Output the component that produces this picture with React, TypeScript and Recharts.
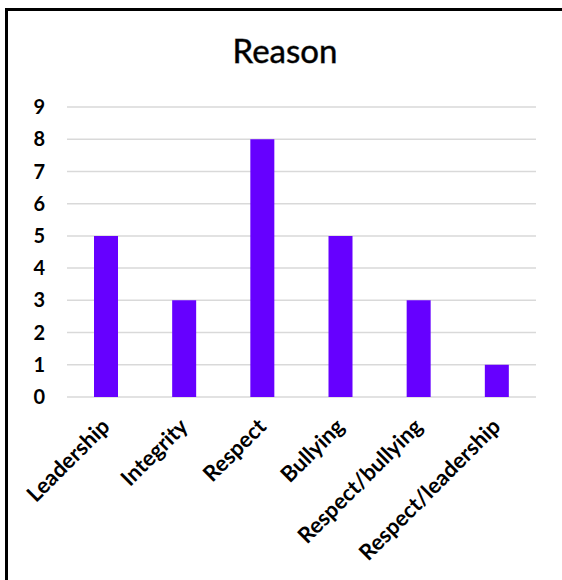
import React from 'react';
import { BarChart, Bar, XAxis, YAxis, CartesianGrid } from 'recharts';

const reasons = ['Leadership', 'Integrity', 'Respect', 'Bullying', 'Respect/bullying', 'Respect/leadership'];
const counts = [5, 3, 8, 5, 3, 1];
const yTicks = [0, 1, 2, 3, 4, 5, 6, 7, 8, 9];

const BAR_COLOR = '#6600ff';
const FONT = 'Lato, "Open Sans", sans-serif';

const data = reasons.map((name, i) => ({ name, value: counts[i] }));

// rotated category label, anchored at its end like Excel does
const XTick = ({ x, y, payload }: any) => (
  <g transform={`translate(${x + 5},${y + 31})`}>
    <text
      x={0}
      y={0}
      textAnchor="end"
      transform="rotate(-45)"
      fontFamily={FONT}
      fontWeight={700}
      fontSize={22}
      fill="#000"
    >
      {payload.value}
    </text>
  </g>
);

export default function App() {
  return (
    <div style={{ position: 'absolute', left: 0, top: 0, width: 562, height: 580, overflow: 'hidden', background: '#fff' }}>
      {/* frame (only left and top edges show) + title */}
      <svg width={562} height={580} style={{ position: 'absolute', left: 0, top: 0 }}>
        <path d="M6.5,580 V9.5 H562" fill="none" stroke="#000" strokeWidth={3} />
        <text
          x={285}
          y={63}
          textAnchor="middle"
          fontFamily={FONT}
          fontSize={33}
          fill="#000"
          stroke="#777"
          strokeWidth={0.8}
          paintOrder="stroke"
        >
          Reason
        </text>
      </svg>
      <div style={{ position: 'absolute', left: 0, top: 0 }}>
        <BarChart
          width={562}
          height={580}
          data={data}
          margin={{ top: 107, right: 26, bottom: 0, left: 0 }}
          barSize={24}
        >
          <CartesianGrid vertical={false} stroke="#d9d9d9" strokeWidth={1.5} />
          <XAxis
            dataKey="name"
            axisLine={false}
            tickLine={false}
            tickSize={0}
            tickMargin={0}
            interval={0}
            height={183}
            tick={<XTick />}
          />
          <YAxis
            width={67}
            domain={[0, 9]}
            ticks={yTicks}
            axisLine={false}
            tickLine={false}
            tickMargin={16}
            tick={{ fill: '#000', fontFamily: FONT, fontWeight: 700, fontSize: 20 }}
          />
          <Bar dataKey="value" fill={BAR_COLOR} isAnimationActive={false} />
        </BarChart>
      </div>
    </div>
  );
}
